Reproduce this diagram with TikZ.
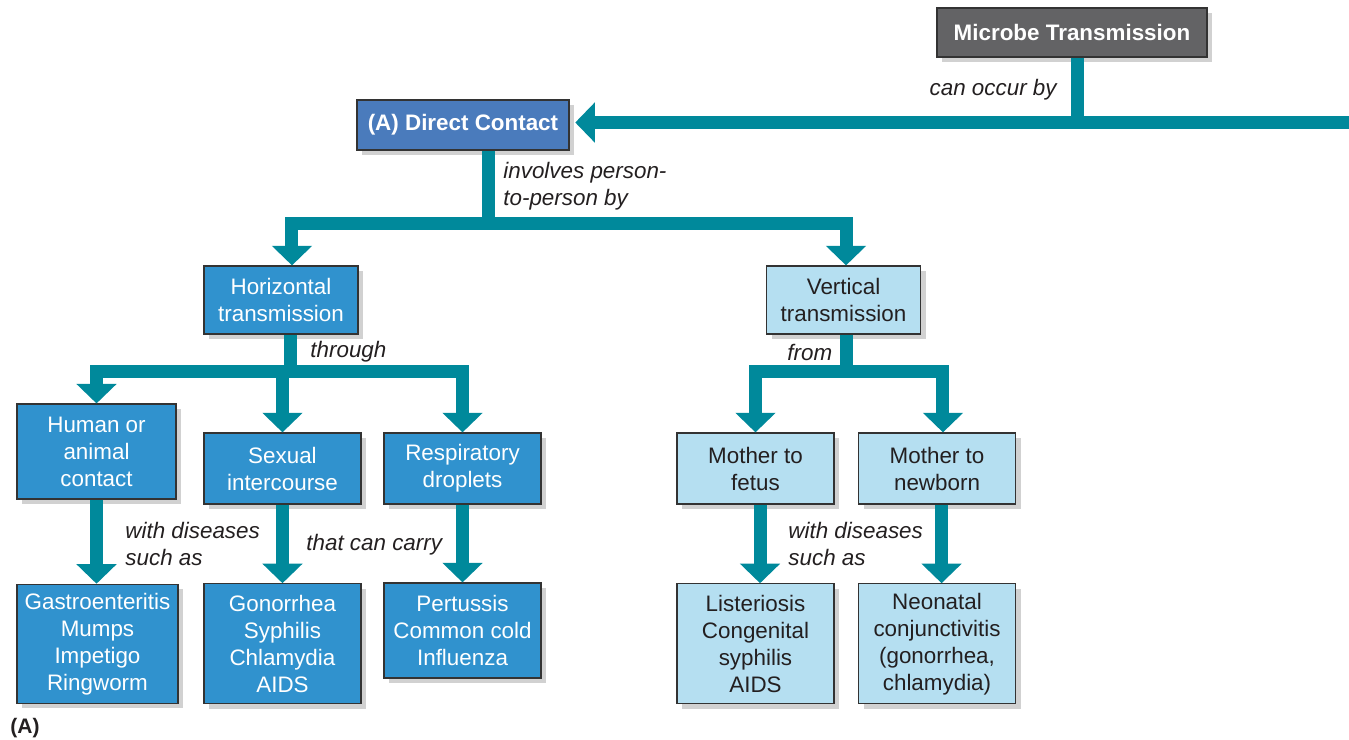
\documentclass[tikz,border=0pt]{standalone}
\usepackage{fontspec}
\setmainfont{Liberation Sans}
\usepackage{xcolor}
\definecolor{flowteal}{RGB}{0,137,155}
\definecolor{slate}{RGB}{99,99,101}
\definecolor{royal}{RGB}{74,123,188}
\definecolor{ocean}{RGB}{48,146,206}
\definecolor{sky}{RGB}{181,223,241}
\definecolor{ink}{RGB}{35,31,32}
\usepackage{tikz}
\usetikzlibrary{
    arrows.meta,
    positioning,
    shadows
}

\begin{document}
\begin{tikzpicture}[
        box/.style={rectangle, draw=black!80, line width=0.6pt, align=center, inner sep=2pt, font=\fontsize{11.2}{13.5}\selectfont, drop shadow={shadow xshift=2.5pt, shadow yshift=-2.5pt, fill=black, opacity=0.18}},
        head/.style={box, fill=slate, text=white, font=\fontsize{11.2}{13.5}\selectfont\bfseries, minimum width=4.745cm, minimum height=0.861cm},
        mode/.style={box, fill=royal, text=white, font=\fontsize{11.2}{13.5}\selectfont\bfseries, minimum width=3.725cm, minimum height=0.879cm},
        route/.style={box, fill=ocean, text=white, minimum width=2.759cm},
        birth/.style={box, fill=sky, text=ink, minimum width=2.759cm},
        link/.style={line width=6.5pt, flowteal},
        rel/.style={link, -{Triangle[length=9.75pt, width=19.5pt]}},
        note/.style={font=\fontsize{11.2}{13.5}\selectfont\itshape, text=ink, align=left, inner sep=0pt}
    ]
        \useasboundingbox (0,0) rectangle (23.706,12.987);

        \node[head] (microbe) at (18.838,12.415) {Microbe Transmission};
        \node[mode] (direct) at (8.136,10.790) {(A) Direct Contact};

        \node[route, minimum width=2.706cm, minimum height=1.195cm] (horiz) at (4.938,7.715) {Horizontal\\transmission};
        \node[birth, minimum width=2.706cm, minimum height=1.195cm] (vert) at (14.823,7.715) {Vertical\\transmission};

        \node[route, minimum width=2.794cm, minimum height=1.669cm] (contact) at (1.696,5.052) {Human or\\animal\\contact};
        \node[route, minimum height=1.248cm] (sexual) at (4.964,4.754) {Sexual\\intercourse};
        \node[route, minimum height=1.248cm] (droplet) at (8.128,4.754) {Respiratory\\droplets};
        \node[birth, minimum height=1.248cm] (fetus) at (13.276,4.754) {Mother to\\fetus};
        \node[birth, minimum height=1.248cm] (newborn) at (16.466,4.754) {Mother to\\newborn};

        \node[route, minimum width=2.829cm, minimum height=2.091cm] (contactdis) at (1.713,1.673) {Gastroenteritis\\Mumps\\Impetigo\\Ringworm};
        \node[route, minimum height=2.109cm] (sexualdis) at (4.964,1.673) {Gonorrhea\\Syphilis\\Chlamydia\\AIDS};
        \node[route, minimum height=1.669cm] (dropletdis) at (8.128,1.907) {Pertussis\\Common cold\\Influenza};
        \node[birth, minimum height=2.109cm] (fetusdis) at (13.276,1.673) {Listeriosis\\Congenital\\syphilis\\AIDS};
        \node[birth, minimum height=2.109cm] (newborndis) at (16.466,1.673) {Neonatal\\conjunctivitis\\(gonorrhea,\\chlamydia)};

        % junction points of the bars
        \coordinate (rim) at (23.706,10.834);
        \coordinate (dsplit) at (8.576,9.059);
        \coordinate (hsplit) at (5.105,6.458);
        \coordinate (vsplit) at (14.867,6.458);

        \draw[link] ([xshift=0.105cm]microbe.south) -- ([xshift=0.105cm,yshift=-3.25pt]microbe.south |- rim);
        \draw[rel, shorten >=0.1cm] (rim) -- (direct.east |- rim);

        \draw[link] (direct.south -| dsplit) -- ([yshift=-3.25pt]dsplit);
        \draw[rel] (dsplit) -| ([xshift=0.193cm]horiz.north);
        \draw[rel] (dsplit) -| ([xshift=0.044cm]vert.north);

        \draw[link] (horiz.south -| hsplit) -- ([yshift=-3.25pt]hsplit);
        \draw[rel] (hsplit) -| (contact.north);
        \draw[rel] (hsplit) -| (sexual.north);
        \draw[rel] (hsplit) -| (droplet.north);

        \draw[link] (vert.south -| vsplit) -- ([yshift=-3.25pt]vsplit);
        \draw[rel] (vsplit) -| (fetus.north);
        \draw[rel] (vsplit) -| ([xshift=0.105cm]newborn.north);

        \draw[rel] (contact.south) -- (contact.south |- contactdis.north);
        \draw[rel] (sexual) -- (sexualdis);
        \draw[rel] (droplet) -- (dropletdis);
        \draw[rel] ([xshift=0.08cm]fetus.south) -- ([xshift=0.08cm]fetusdis.north);
        \draw[rel] ([xshift=0.08cm]newborn.south) -- ([xshift=0.08cm]newborndis.north);

        \node[note, anchor=east] (occur) at (18.575,11.405) {can occur by};
        \node[note, anchor=west] (person) at (8.839,9.718) {involves person-\\to-person by};
        \node[note, anchor=west] (through) at (5.448,6.801) {through};
        \node[note, anchor=west] (from) at (13.830,6.801) {from};
        \node[note, anchor=west] (suchA) at (2.197,3.427) {with diseases\\such as};
        \node[note, anchor=west] (carry) at (5.377,3.409) {that can carry};
        \node[note, anchor=west] (suchB) at (13.848,3.427) {with diseases\\such as};
        \node[font=\fontsize{10.5}{12}\selectfont\bfseries, text=ink, anchor=west, inner sep=0pt] (tag) at (0.176,0.193) {(A)};
    \end{tikzpicture}
\end{document}
